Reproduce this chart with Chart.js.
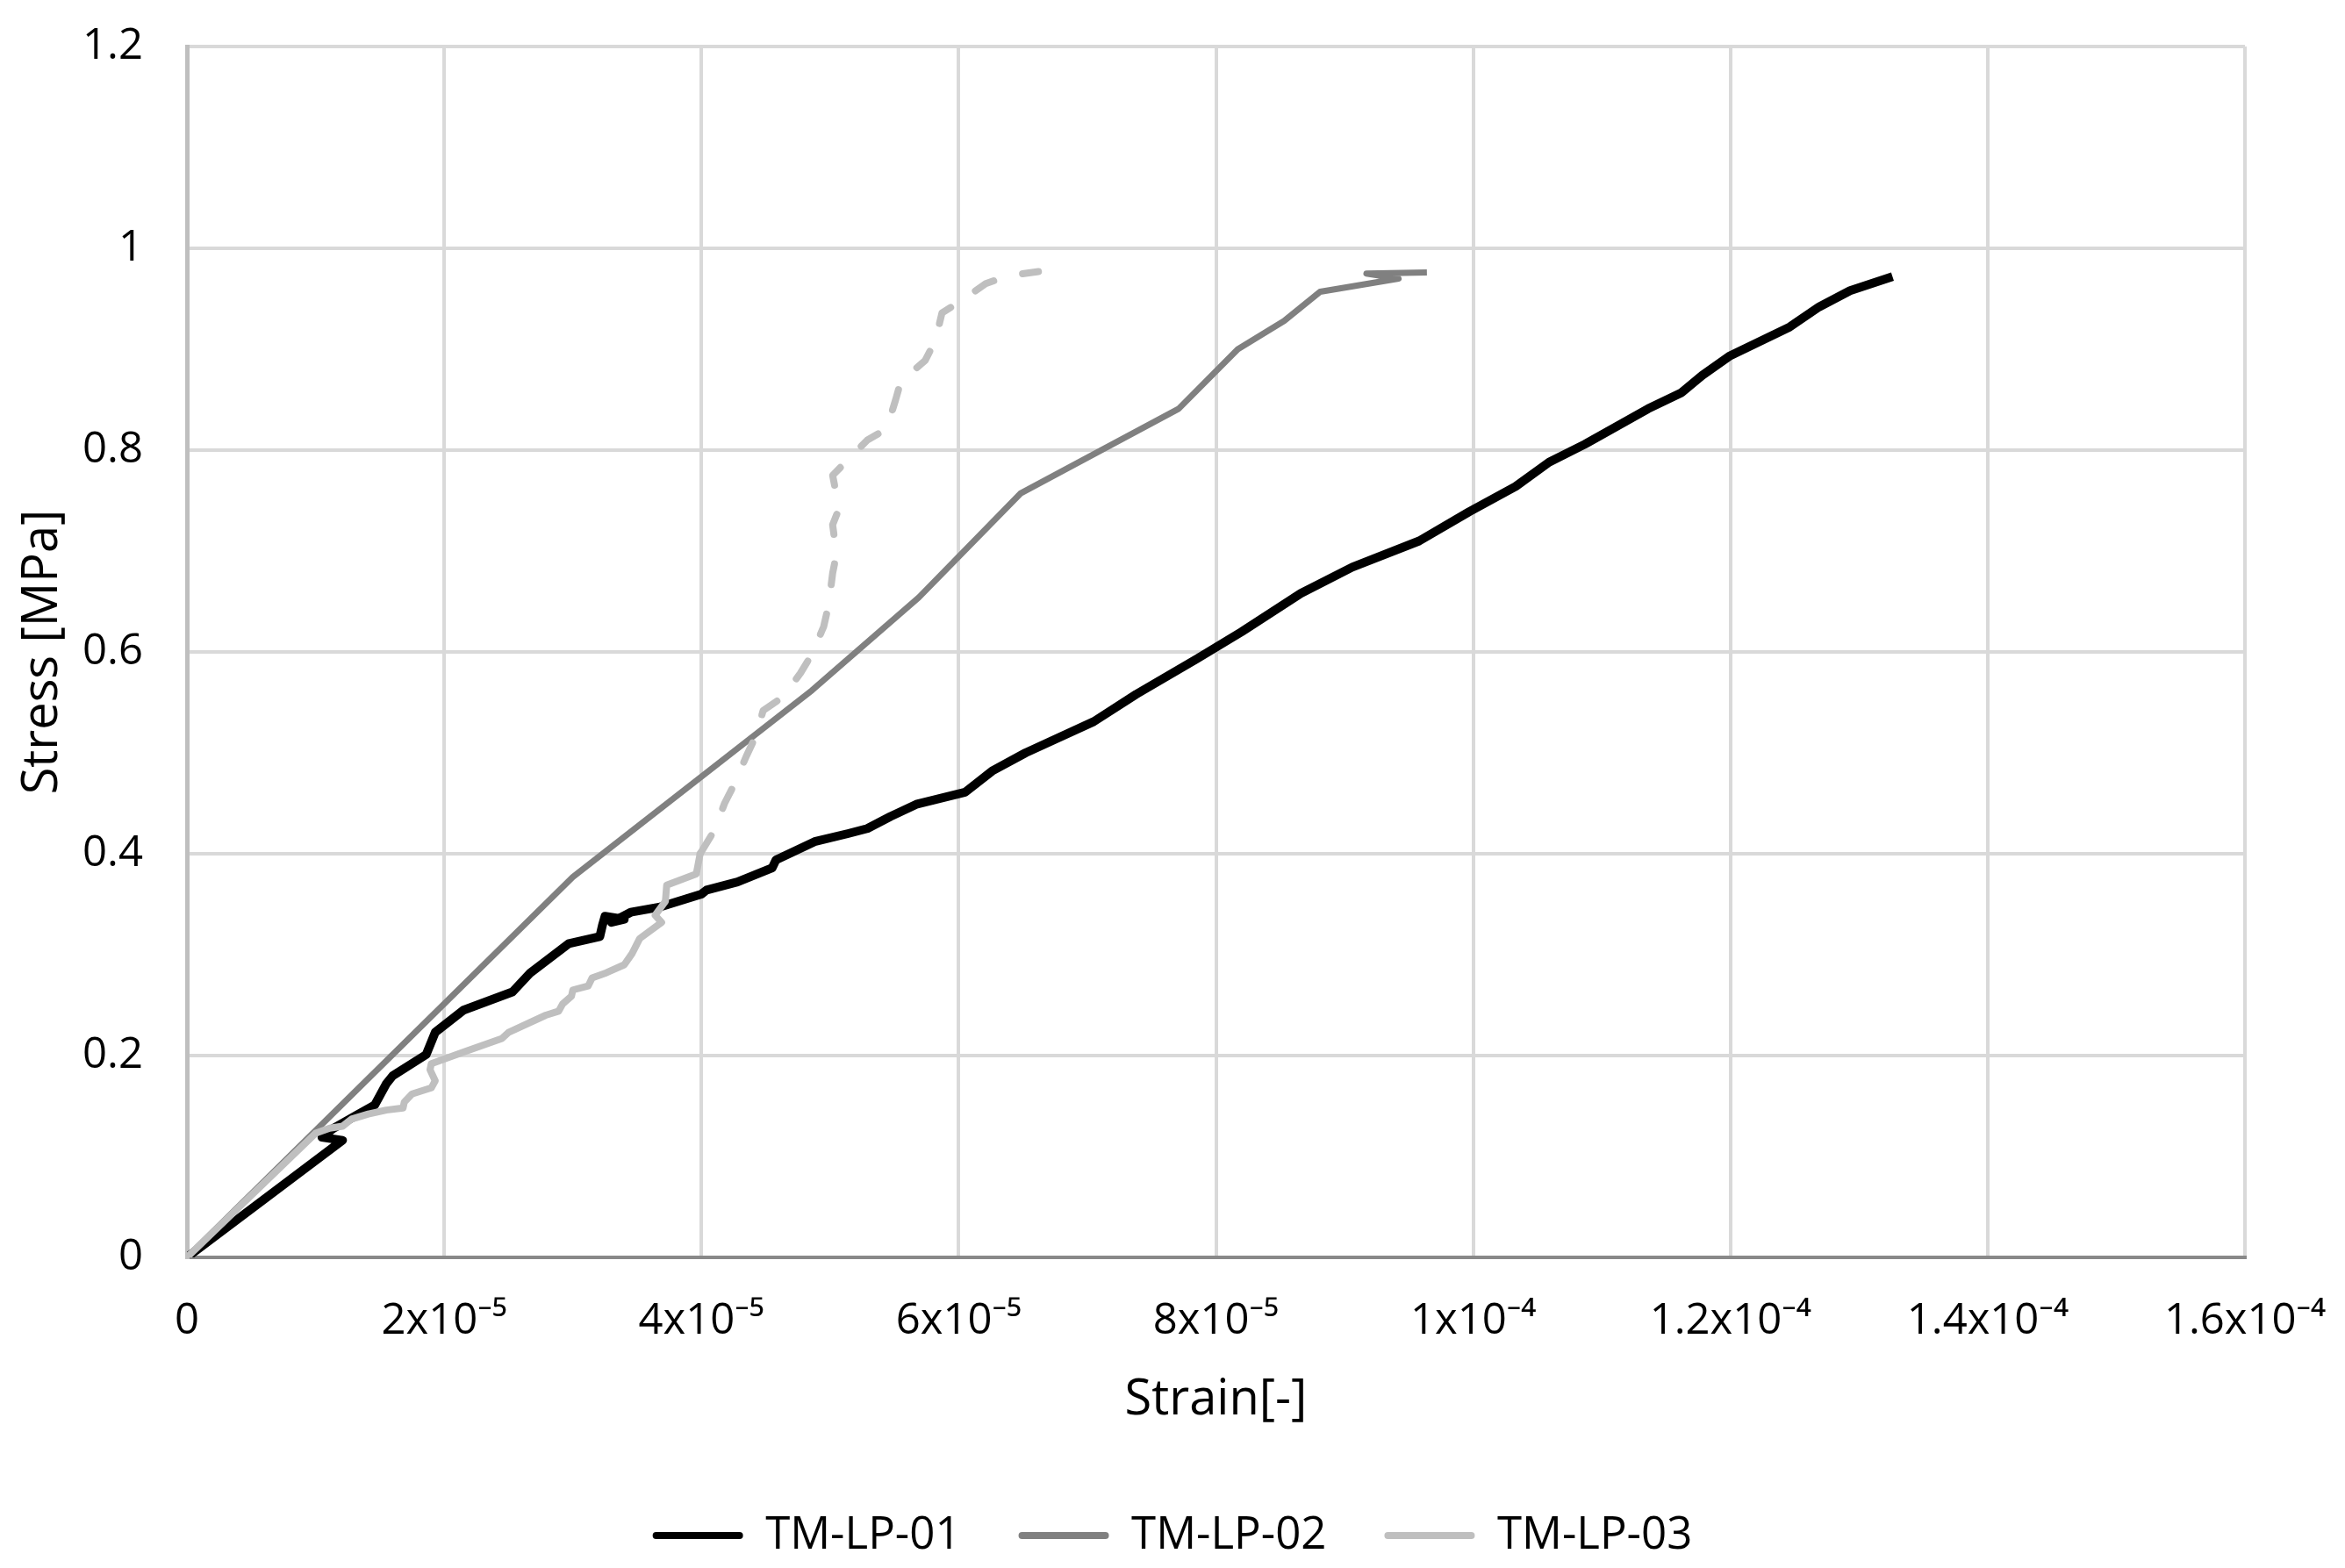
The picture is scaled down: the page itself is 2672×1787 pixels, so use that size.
<!DOCTYPE html>
<html>
<head>
<meta charset="utf-8">
<title>Stress - strain</title>
<script src="https://cdn.jsdelivr.net/npm/chart.js@4.4.1/dist/chart.umd.min.js"></script>
<style>
  html, body { margin: 0; padding: 0; background: #ffffff; }
</style>
</head>
<body>
<canvas id="myChart" width="2672" height="1787"></canvas>
<script>
// values
var seriesNames = ['TM-LP-01', 'TM-LP-02', 'TM-LP-03'];

var lp01Strain = [0, 1.21e-5, 1.05e-5, 1.14e-5, 1.32e-5, 1.46e-5, 1.55e-5, 1.60e-5, 1.86e-5, 1.93e-5,
    2.15e-5, 2.53e-5, 2.67e-5, 2.97e-5, 3.21e-5, 3.23e-5, 3.25e-5, 3.40e-5, 3.30e-5, 3.45e-5,
    3.67e-5, 4.00e-5, 4.04e-5, 4.28e-5, 4.55e-5, 4.58e-5, 4.88e-5, 5.14e-5, 5.29e-5, 5.47e-5,
    5.67e-5, 6.05e-5, 6.26e-5, 6.52e-5, 7.05e-5, 7.38e-5, 7.85e-5, 8.20e-5, 8.66e-5, 9.06e-5,
    9.58e-5, 9.97e-5, 1.033e-4, 1.059e-4, 1.087e-4, 1.136e-4, 1.162e-4, 1.178e-4, 1.199e-4, 1.246e-4,
    1.269e-4, 1.293e-4, 1.326e-4];
var lp01Stress = [0, 0.116, 0.119, 0.128, 0.141, 0.151, 0.172, 0.180, 0.201, 0.223,
    0.245, 0.263, 0.282, 0.311, 0.318, 0.329, 0.338, 0.335, 0.332, 0.342,
    0.347, 0.360, 0.364, 0.372, 0.386, 0.394, 0.412, 0.420, 0.425, 0.437,
    0.449, 0.461, 0.482, 0.500, 0.531, 0.558, 0.593, 0.620, 0.658, 0.684,
    0.710, 0.739, 0.764, 0.788, 0.806, 0.841, 0.857, 0.874, 0.893, 0.922,
    0.942, 0.958, 0.972];

var lp02Strain = [0, 3.0e-5, 4.86e-5, 5.69e-5, 6.48e-5, 7.71e-5, 8.17e-5, 8.53e-5, 8.81e-5, 9.42e-5, 9.17e-5, 9.64e-5];
var lp02Stress = [0, 0.377, 0.562, 0.654, 0.757, 0.841, 0.900, 0.928, 0.957, 0.970, 0.975, 0.976];

var lp03Strain = [0, 1.0e-5, 1.11e-5, 1.21e-5, 1.28e-5, 1.41e-5, 1.55e-5, 1.68e-5, 1.69e-5, 1.75e-5,
    1.90e-5, 1.93e-5, 1.89e-5, 1.90e-5, 2.16e-5, 2.45e-5, 2.50e-5, 2.79e-5, 2.89e-5, 2.92e-5,
    2.99e-5, 3.00e-5, 3.12e-5, 3.15e-5, 3.26e-5, 3.40e-5, 3.46e-5, 3.52e-5, 3.69e-5, 3.64e-5,
    3.72e-5, 3.73e-5, 3.96e-5, 3.99e-5, 4.10e-5, 4.18e-5, 4.26e-5, 4.35e-5, 4.42e-5, 4.48e-5,
    4.63e-5, 4.77e-5, 4.86e-5, 4.95e-5, 4.99e-5, 5.02e-5, 5.05e-5, 5.02e-5, 5.07e-5, 5.02e-5,
    5.12e-5, 5.29e-5, 5.44e-5, 5.51e-5, 5.55e-5, 5.74e-5, 5.82e-5, 5.87e-5, 6.02e-5, 6.21e-5,
    6.39e-5, 6.62e-5];
var lp03Stress = [0, 0.123, 0.128, 0.130, 0.137, 0.142, 0.146, 0.148, 0.154, 0.162,
    0.168, 0.175, 0.186, 0.192, 0.204, 0.217, 0.223, 0.240, 0.244, 0.251,
    0.259, 0.265, 0.269, 0.277, 0.282, 0.290, 0.301, 0.316, 0.332, 0.339,
    0.353, 0.369, 0.380, 0.400, 0.423, 0.450, 0.470, 0.497, 0.516, 0.542,
    0.555, 0.579, 0.598, 0.625, 0.647, 0.678, 0.697, 0.726, 0.742, 0.775,
    0.788, 0.810, 0.821, 0.850, 0.868, 0.889, 0.909, 0.936, 0.948, 0.965,
    0.973, 0.977];
// TM-LP-03 is drawn dashed from this strain on
var lp03DashFrom = 3.99e-5;

var xTickLabels = ['0', '2x10\u207B\u2075', '4x10\u207B\u2075', '6x10\u207B\u2075', '8x10\u207B\u2075',
    '1x10\u207B\u2074', '1.2x10\u207B\u2074', '1.4x10\u207B\u2074', '1.6x10\u207B\u2074'];
var yTickLabels = ['0', '0.2', '0.4', '0.6', '0.8', '1', '1.2'];

function toPoints(xs, ys) {
    var pts = [];
    for (var i = 0; i < xs.length; i++) {
        pts.push({ x: xs[i], y: ys[i] });
    }
    return pts;
}

var FONT = '"Open Sans", "Noto Sans", "DejaVu Sans", sans-serif';
var colors = ['#000000', '#808080', '#bfbfbf'];

var ctx = document.getElementById('myChart').getContext('2d');
var chart = new Chart(ctx, {
    type: 'line',
    data: {
        datasets: [{
            label: seriesNames[0],
            data: toPoints(lp01Strain, lp01Stress),
            borderColor: colors[0],
            backgroundColor: colors[0],
            borderWidth: 10,
            order: 3
        }, {
            label: seriesNames[1],
            data: toPoints(lp02Strain, lp02Stress),
            borderColor: colors[1],
            backgroundColor: colors[1],
            borderWidth: 7,
            order: 2
        }, {
            label: seriesNames[2],
            data: toPoints(lp03Strain, lp03Stress),
            borderColor: colors[2],
            backgroundColor: colors[2],
            borderWidth: 8,
            borderCapStyle: 'round',
            order: 1,
            segment: {
                borderDash: function (c) {
                    return c.p0.parsed.x >= lp03DashFrom ? [24, 34] : undefined;
                }
            }
        }]
    },
    options: {
        responsive: false,
        animation: false,
        devicePixelRatio: 1,
        elements: {
            point: { radius: 0, hoverRadius: 0 },
            line: { tension: 0, fill: false, borderJoinStyle: 'round' }
        },
        layout: {
            padding: { top: 53, left: 0, right: 0, bottom: 1.5 }
        },
        scales: {
            x: {
                type: 'linear',
                min: 0,
                max: 1.6e-4,
                afterFit: function (scale) {
                    scale.height = 225.5;
                    scale.paddingRight = 114;
                },
                ticks: {
                    stepSize: 2e-5,
                    autoSkip: false,
                    maxRotation: 0,
                    padding: 44,
                    color: '#000000',
                    font: { family: FONT, size: 49 },
                    callback: function (v, i) { return xTickLabels[i]; }
                },
                grid: {
                    drawTicks: false,
                    lineWidth: 4,
                    color: function (c) { return c.index === 0 ? 'rgba(0,0,0,0)' : '#d9d9d9'; }
                },
                border: { color: '#898989', width: 4 },
                title: {
                    display: true,
                    text: 'Strain[-]',
                    color: '#000000',
                    font: { family: FONT, size: 56 },
                    padding: { top: 0, bottom: 29 }
                }
            },
            y: {
                min: 0,
                max: 1.2,
                afterFit: function (scale) {
                    scale.width = 213;
                    scale.paddingTop = 0;
                    scale.paddingBottom = 0;
                },
                ticks: {
                    stepSize: 0.2,
                    padding: 50,
                    color: '#000000',
                    font: { family: FONT, size: 49 },
                    callback: function (v, i) { return yTickLabels[i]; }
                },
                grid: {
                    drawTicks: false,
                    lineWidth: 4,
                    color: function (c) { return c.index === 0 ? 'rgba(0,0,0,0)' : '#d9d9d9'; }
                },
                border: { color: '#bfbfbf', width: 5 },
                title: {
                    display: true,
                    text: 'Stress [MPa]',
                    color: '#000000',
                    font: { family: FONT, size: 56 },
                    padding: { top: 15, bottom: 0 }
                }
            }
        },
        plugins: {
            tooltip: { enabled: false },
            legend: {
                position: 'bottom',
                labels: {
                    color: '#000000',
                    font: { family: FONT, size: 51 },
                    boxWidth: 103,
                    boxHeight: 8,
                    padding: 66,
                    generateLabels: function (chart) {
                        var items = Chart.defaults.plugins.legend.labels.generateLabels(chart);
                        items.forEach(function (it) {
                            it.fillStyle = colors[it.datasetIndex];
                            it.lineWidth = 0;
                            it.lineDash = [];
                            it.borderRadius = 4;
                        });
                        items.sort(function (a, b) { return a.datasetIndex - b.datasetIndex; });
                        return items;
                    }
                }
            }
        }
    }
});
</script>
</body>
</html>
